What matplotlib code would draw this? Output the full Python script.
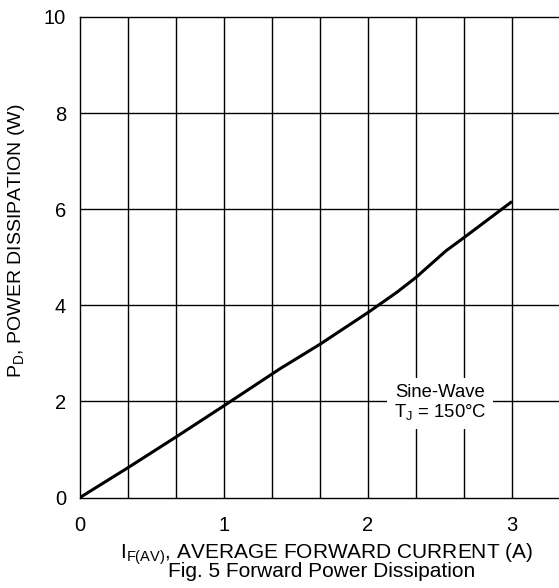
import matplotlib
matplotlib.use("Agg")
import matplotlib.pyplot as plt
import numpy as np

plt.rcParams['font.family'] = ['Liberation Sans', 'DejaVu Sans']
plt.rcParams['mathtext.fontset'] = 'custom'
plt.rcParams['mathtext.rm'] = 'Liberation Sans'

# Data
current_a = [0.0, 0.333, 0.667, 1.0, 1.389, 1.667, 2.0, 2.2, 2.333, 2.54, 2.667, 3.0]
power_w = [0.0, 0.62, 1.26, 1.91, 2.68, 3.19, 3.85, 4.27, 4.58, 5.13, 5.41, 6.16]

x_ticks = [0, 1, 2, 3]
y_ticks = [0, 2, 4, 6, 8, 10]
x_grid = [i / 3 for i in range(1, 10)]

W, H = 559, 588
fig = plt.figure(figsize=(W / 100, H / 100), dpi=100)
ax = fig.add_axes([80 / W, 1 - 497.5 / H, 480 / W, 480.5 / H])
ax.set_xlim(0, 10 / 3)
ax.set_ylim(0, 10)

for gx in x_grid:
    ax.axvline(gx, color='black', lw=1.0, zorder=1)
for gy in y_ticks[1:-1]:
    ax.axhline(gy, color='black', lw=1.0, zorder=1)

ax.plot(current_a, power_w, color='black', lw=2.2, zorder=3, solid_capstyle='butt')

ax.set_xticks(x_ticks)
ax.set_yticks(y_ticks)
ax.tick_params(length=0, labelsize=14.5)
ax.tick_params(axis='x', pad=13)
ax.tick_params(axis='y', pad=10)
for s in ['left', 'bottom', 'top']:
    ax.spines[s].set_linewidth(1.0)
    ax.spines[s].set_color('black')
ax.spines['right'].set_visible(False)

ax.text(2.5, 1.97, "Sine-Wave\nT$_\\mathregular{J}$ = 150°C", ha='center', va='center',
        fontsize=13.3, linespacing=1.1, zorder=4,
        bbox=dict(facecolor='white', edgecolor='none', pad=5))

fig.text(327 / W, 1 - 558 / H, "I$_\\mathregular{F(AV)}$, AVERAGE FORWARD CURRENT (A)",
         ha='center', va='baseline', fontsize=15)
fig.text(322 / W, 1 - 577 / H, "Fig. 5 Forward Power Dissipation",
         ha='center', va='baseline', fontsize=15)
fig.text(17 / W, 1 - 241 / H, "P$_\\mathregular{D}$, POWER DISSIPATION (W)",
         ha='center', va='center', rotation=90, fontsize=14)

fig.savefig("out.png", dpi=100)
